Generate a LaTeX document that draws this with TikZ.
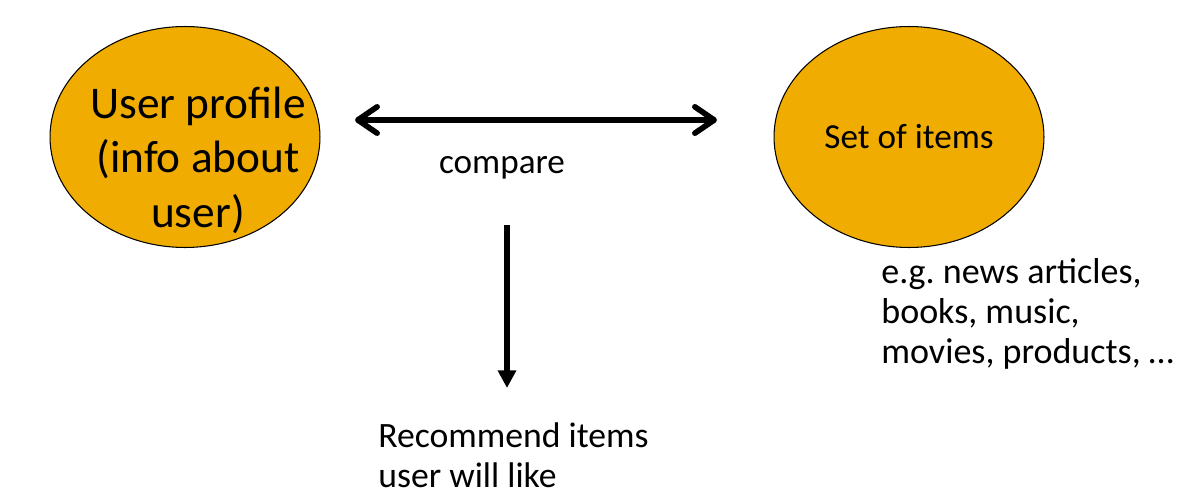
\documentclass[tikz,border=0pt]{standalone}
\usepackage{fontspec}
\setmainfont{Carlito}
\usetikzlibrary{arrows.meta,shapes.geometric}
\definecolor{amber}{HTML}{F0AC00}
\frenchspacing

\begin{document}
\begin{tikzpicture}[x=0.02cm, y=-0.02cm,
		blob/.style={ellipse, draw=black, line width=0.6pt, fill=amber, inner sep=0pt, minimum width=5.4cm, minimum height=4.42cm},
		thickarrow/.style={line width=3.2pt, black},
		caption/.style={inner sep=0pt, align=left}]
		%%%%% START %%%%%
		\useasboundingbox (0, 0) rectangle (1192, 500);
		
		\node[blob] (profile) at (185, 137) {};
		\node[inner sep=0pt, align=center, font=\fontsize{25.8}{31}\selectfont] (profiletext) at (198, 160) {User profile\\(info about\\user)};
		
		\node[blob, font=\fontsize{20}{24}\selectfont] (items) at (909, 137) {Set of items};
		
		\coordinate (cmpL) at (355, 120);
		\coordinate (cmpR) at (717, 120);
		\draw[thickarrow, {Straight Barb[length=11pt, width=15pt, round]}-{Straight Barb[length=11pt, width=15pt, round]}] (cmpL) -- (cmpR);
		\node[inner sep=0pt, font=\fontsize{20}{24}\selectfont] (compare) at (502, 168) {compare};
		
		\coordinate (recTop) at (507, 225);
		\coordinate (recBot) at (507, 388);
		\draw[thickarrow, -{Triangle[length=10pt, width=10pt]}] (recTop) -- (recBot);
		
		\node[caption, anchor=west, font=\fontsize{20.3}{22.7}\selectfont] (recommend) at (378, 455) {Recommend items\\user will like};
		\node[caption, anchor=west, font=\fontsize{20.5}{22.7}\selectfont] (examples) at (881, 314) {e.g. news articles,\\books, music,\\movies, products, \dots};
		%%%%% END %%%%%
\end{tikzpicture}
\end{document}
